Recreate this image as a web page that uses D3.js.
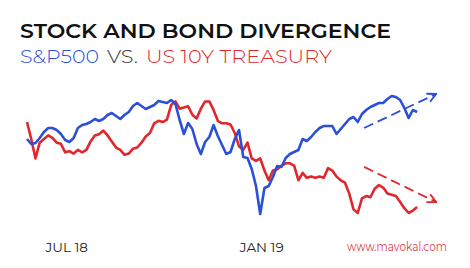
<!DOCTYPE html>
<html>
<head>
<meta charset="utf-8">
<script src="https://cdn.jsdelivr.net/npm/d3@7"></script>
<style>
  body { margin: 0; background: #fff; }
  svg { display: block; }
  .title { font-family: Montserrat, Lato, "Noto Sans", sans-serif; }
  .tick text { font-family: Montserrat, Lato, "Noto Sans", sans-serif; }
</style>
</head>
<body>
<svg id="chart" width="470" height="268"></svg>
<script>
// sample dates (every 4 days)
var dates = [
  "2018-05-25","2018-05-29","2018-06-02","2018-06-06","2018-06-10","2018-06-14","2018-06-18","2018-06-22",
  "2018-06-26","2018-06-30","2018-07-04","2018-07-08","2018-07-12","2018-07-16","2018-07-20","2018-07-24",
  "2018-07-28","2018-08-01","2018-08-05","2018-08-09","2018-08-13","2018-08-17","2018-08-21","2018-08-25",
  "2018-08-29","2018-09-02","2018-09-06","2018-09-10","2018-09-14","2018-09-18","2018-09-22","2018-09-26",
  "2018-09-30","2018-10-04","2018-10-08","2018-10-12","2018-10-16","2018-10-20","2018-10-24","2018-10-28",
  "2018-11-01","2018-11-05","2018-11-09","2018-11-13","2018-11-17","2018-11-21","2018-11-25","2018-11-29",
  "2018-12-03","2018-12-07","2018-12-11","2018-12-15","2018-12-19","2018-12-23","2018-12-27","2018-12-31",
  "2019-01-04","2019-01-08","2019-01-12","2019-01-16","2019-01-20","2019-01-24","2019-01-28","2019-02-01",
  "2019-02-05","2019-02-09","2019-02-13","2019-02-17","2019-02-21","2019-02-25","2019-03-01","2019-03-05",
  "2019-03-09","2019-03-13","2019-03-17","2019-03-21","2019-03-25","2019-03-29","2019-04-02","2019-04-06",
  "2019-04-10","2019-04-14","2019-04-18","2019-04-22","2019-04-26","2019-04-30","2019-05-04","2019-05-08",
  "2019-05-12","2019-05-16","2019-05-20","2019-05-24","2019-05-28"
];

// S&P 500 level
var spx = [
  2730,2705,2710,2735,2765,2785,2785,2775,2755,2725,2715,2735,2785,2800,2805,2815,
  2830,2820,2830,2850,2860,2845,2830,2850,2865,2895,2910,2895,2880,2890,2900,2920,
  2915,2910,2925,2905,2825,2755,2810,2780,2705,2655,2715,2740,2800,2745,2700,2655,
  2665,2730,2775,2640,2635,2580,2495,2355,2485,2495,2540,2595,2590,2635,2655,2665,
  2675,2730,2720,2740,2765,2785,2795,2795,2795,2755,2780,2805,2830,2840,2815,2855,
  2875,2890,2900,2910,2910,2930,2945,2940,2925,2885,2835,2875,2865
];

// US 10Y treasury yield, %
var ust10 = [
  3.05,2.91,2.75,2.88,2.91,2.94,2.92,2.88,2.87,2.80,2.81,2.79,2.82,2.80,2.82,2.89,
  2.94,2.95,2.98,2.94,2.89,2.84,2.82,2.78,2.79,2.83,2.84,2.88,2.93,2.96,3.04,3.06,
  3.05,3.07,3.19,3.22,3.16,3.17,3.18,3.11,3.08,3.16,3.22,3.22,3.15,3.06,3.04,3.04,
  3.03,2.96,2.85,2.82,2.88,2.75,2.73,2.75,2.65,2.57,2.65,2.66,2.69,2.71,2.71,2.69,
  2.57,2.63,2.59,2.60,2.59,2.60,2.59,2.67,2.65,2.60,2.57,2.55,2.46,2.33,2.30,2.42,
  2.44,2.43,2.50,2.53,2.51,2.46,2.45,2.44,2.39,2.34,2.30,2.32,2.35
];

// dashed trend arrows: [date, value]
var spxTrend = [["2019-04-08", 2785], ["2019-06-15", 2955]];
var ustTrend = [["2019-04-08", 2.68], ["2019-06-15", 2.39]];

var tickDates = ["2018-07-01", "2019-01-01"];
var tickLabels = ["JUL 18", "JAN 19"];

var blue = "#2b4fd8", red = "#e0272d";

var parse = d3.timeParse("%Y-%m-%d");
var svg = d3.select("#chart");

var x = d3.scaleTime()
  .domain([parse("2018-05-25"), parse("2019-05-28")])
  .range([27, 417.1]);
var yS = d3.scaleLinear().domain([2355, 2930]).range([214, 99]);
var yT = d3.scaleLinear().domain([2.30, 3.24]).range([213, 99]);

// titles
svg.append("text").attr("class", "title")
  .attr("x", 20).attr("y", 38)
  .attr("textLength", 371).attr("lengthAdjust", "spacingAndGlyphs")
  .style("font-size", "21px").style("font-weight", 600).style("fill", "#111")
  .text("STOCK AND BOND DIVERGENCE");

var subs = [
  { t: "S&P500", x: 20, w: 79, c: blue },
  { t: "VS.", x: 107, w: 31, c: "#333" },
  { t: "US 10Y TREASURY", x: 146, w: 186, c: red }
];
svg.selectAll("text.sub").data(subs).enter().append("text")
  .attr("class", "title sub")
  .attr("x", function(d) { return d.x; })
  .attr("y", 62.5)
  .attr("textLength", function(d) { return d.w; })
  .attr("lengthAdjust", "spacingAndGlyphs")
  .style("font-size", "18px").style("font-weight", 300)
  .style("fill", function(d) { return d.c; })
  .text(function(d) { return d.t; });

// arrow markers
var defs = svg.append("defs");
[["arrBlue", blue], ["arrRed", red]].forEach(function(m) {
  defs.append("marker")
    .attr("id", m[0])
    .attr("viewBox", "0 0 10 10")
    .attr("refX", 9).attr("refY", 5)
    .attr("markerUnits", "userSpaceOnUse")
    .attr("markerWidth", 11).attr("markerHeight", 11)
    .attr("orient", "auto")
    .append("path")
    .attr("d", "M1,1 L9,5 L1,9")
    .attr("fill", "none")
    .attr("stroke", m[1])
    .attr("stroke-width", 1.7);
});

// lines
var ustLine = d3.line()
  .x(function(d, i) { return x(parse(dates[i])); })
  .y(function(d) { return yT(d); });
var spxLine = d3.line()
  .x(function(d, i) { return x(parse(dates[i])); })
  .y(function(d) { return yS(d); });

svg.append("path").datum(ust10)
  .attr("d", ustLine)
  .attr("fill", "none").attr("stroke", red)
  .attr("stroke-width", 2.6).attr("stroke-linejoin", "round");

svg.append("path").datum(spx)
  .attr("d", spxLine)
  .attr("fill", "none").attr("stroke", blue)
  .attr("stroke-width", 2.6).attr("stroke-linejoin", "round");

// trend arrows
function trend(data, ys, color, marker) {
  svg.append("line")
    .attr("x1", x(parse(data[0][0]))).attr("y1", ys(data[0][1]))
    .attr("x2", x(parse(data[1][0]))).attr("y2", ys(data[1][1]))
    .attr("stroke", color).attr("stroke-width", 1.8)
    .attr("stroke-dasharray", "10,5")
    .attr("marker-end", "url(#" + marker + ")");
}
trend(spxTrend, yS, blue, "arrBlue");
trend(ustTrend, yT, red, "arrRed");

// x axis
var axis = d3.axisBottom(x)
  .tickValues(tickDates.map(parse))
  .tickFormat(function(d, i) { return tickLabels[i]; })
  .tickSize(0).tickPadding(0);
var ax = svg.append("g").attr("transform", "translate(0,242)").call(axis);
ax.select(".domain").remove();
ax.selectAll("text")
  .style("font-size", "13.5px").style("fill", "#222");

// source
svg.append("text").attr("class", "title")
  .attr("x", 347).attr("y", 251)
  .attr("textLength", 100).attr("lengthAdjust", "spacingAndGlyphs")
  .style("font-size", "13px").style("fill", "#e0394a")
  .text("www.mavokal.com");
</script>
</body>
</html>
